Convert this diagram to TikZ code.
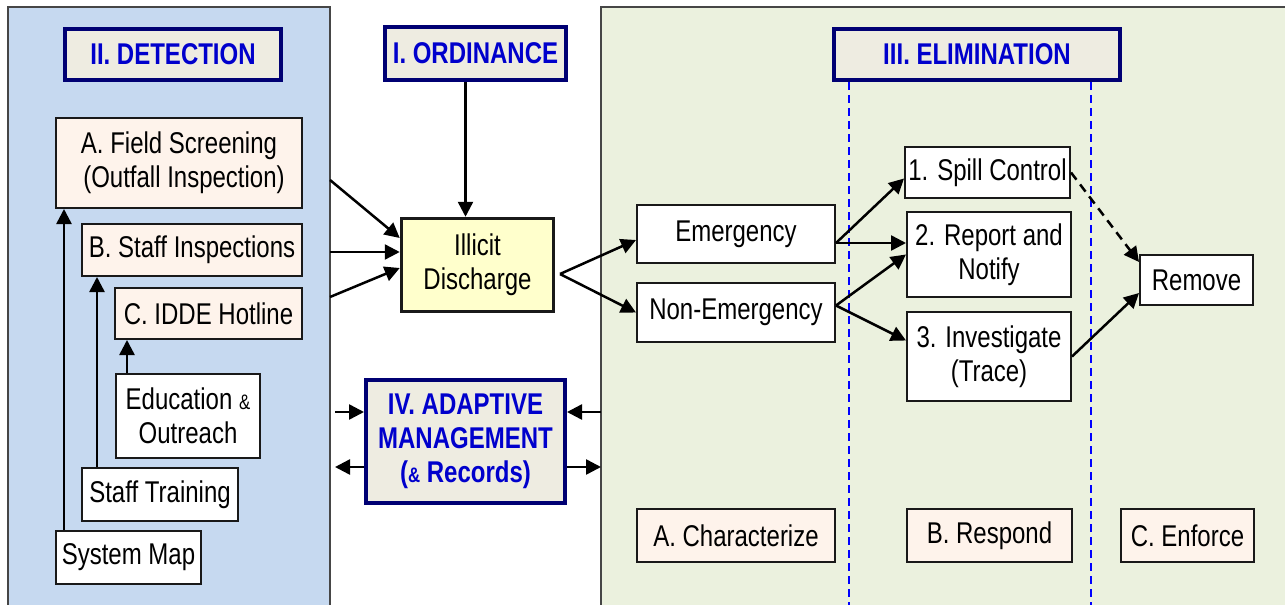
\documentclass[tikz,border=0pt]{standalone}
\usepackage{fontspec}
\setmainfont{Liberation Sans}[FakeStretch=0.80]
\usetikzlibrary{arrows.meta}
\definecolor{bluepanel}{RGB}{198,217,240}
\definecolor{greenpanel}{RGB}{235,241,222}
\definecolor{hdrfill}{RGB}{238,236,225}
\definecolor{navy}{RGB}{0,0,115}
\definecolor{txtblue}{RGB}{0,0,204}
\definecolor{illfill}{RGB}{255,255,204}
\definecolor{peach}{RGB}{254,243,235}
\definecolor{panelline}{RGB}{70,70,70}
\newcommand{\fs}{\fontsize{30}{34}\selectfont}
\newcommand{\amp}{{\fontsize{21}{21}\selectfont\&}}
\tikzset{
  box/.style={draw=black!90, line width=2pt, fill=white, inner sep=0pt, align=center, font=\fs},
  pbox/.style={box, fill=peach},
  hdr/.style={draw=navy, line width=4pt, fill=hdrfill, text=txtblue, font=\bfseries\fs, inner sep=0pt, align=center},
  arr/.style={-{Triangle[length=15pt,width=15pt]}, line width=2.5pt},
  vdash/.style={draw=blue, line width=1.6pt, dash pattern=on 8pt off 5pt},
  panelborder/.style={draw=panelline, line width=1.5pt},
}
\begin{document}
\begin{tikzpicture}[x=1pt,y=-1pt]
\useasboundingbox (0,0) rectangle (1285,605);
% panels
\fill[bluepanel] (8,7) rectangle (330,615);
\draw[panelborder] (8,615) -- (8,7) -- (330,7) -- (330,615);
\fill[greenpanel] (601,7) rectangle (1295,615);
\draw[panelborder] (601,615) -- (601,7) -- (1295,7);
% dashed column separators
\draw[vdash] (849,82) -- (849,610);
\draw[vdash] (1091,82) -- (1091,610);
% headers
\node[hdr, minimum width=216pt, minimum height=51pt] (det) at (173,54.5) {II. DETECTION};
\node[hdr, minimum width=181pt, minimum height=53pt] (ord) at (475.5,53.5) {I. ORDINANCE};
\node[hdr, minimum width=286pt, minimum height=51pt] (elim) at (977,54.5) {III. ELIMINATION};
% detection
\node[pbox, minimum width=246pt, minimum height=90pt] (A) at (179,163) {A. Field Screening\\\hspace*{10pt}(Outfall Inspection)};
\node[pbox, minimum width=220pt, minimum height=52pt] (B) at (192,250) {B. Staff Inspections};
\node[pbox, minimum width=187pt, minimum height=51pt] (C) at (208.5,313.5) {C. IDDE Hotline};
\node[box, minimum width=144pt, minimum height=84pt] (edu) at (188,416) {Education \amp\\Outreach};
\node[box, minimum width=156pt, minimum height=53pt] (train) at (160,494.5) {Staff Training};
\node[box, minimum width=145pt, minimum height=53pt] (map) at (128.5,557.5) {System Map};
% centre
\node[box, fill=illfill, line width=3.5pt, minimum width=152pt, minimum height=93pt] (ill) at (477.5,265) {Illicit\\Discharge};
\node[hdr, minimum width=199pt, minimum height=123pt] (iv) at (465.5,441.5) {IV. ADAPTIVE\\MANAGEMENT\\(\amp\ Records)};
% elimination
\node[box, minimum width=198pt, minimum height=58pt] (emg) at (736,234) {Emergency};
\node[box, minimum width=198pt, minimum height=59pt] (nemg) at (736,312.5) {Non-Emergency};
\node[box, minimum width=165pt, minimum height=51pt] (spill) at (987.5,172.5) {1. Spill Control};
\node[box, minimum width=164pt, minimum height=85pt] (rep) at (989,254.5) {2. Report and\\Notify};
\node[box, minimum width=164pt, minimum height=89pt] (inv) at (989,356.5) {3. Investigate\\(Trace)};
\node[box, minimum width=113pt, minimum height=50pt] (rem) at (1196.5,280) {Remove};
\node[pbox, minimum width=198pt, minimum height=53pt] (char) at (736,535.5) {A. Characterize};
\node[pbox, minimum width=165pt, minimum height=53pt] (resp) at (989.5,535.5) {B. Respond};
\node[pbox, minimum width=133pt, minimum height=53pt] (enf) at (1187.5,535.5) {C. Enforce};
% detection arrows
\draw[arr] ([xshift=9pt]map.north west) -- ([xshift=9pt]map.north west |- A.south);
\draw[arr] ([xshift=16pt]train.north west) -- ([xshift=16pt]train.north west |- B.south);
\draw[arr] ([xshift=12pt]edu.north west) -- ([xshift=12pt]edu.north west |- C.south);
\coordinate (pa) at (330,180);
\coordinate (pb) at (330,252);
\coordinate (pc) at (330,297);
\draw[arr] (pa) -- ([yshift=27pt]ill.west);
\draw[arr] (pb) -- (pb -| ill.west);
\draw[arr] (pc) -- ([yshift=-3pt]ill.west);
\draw[arr] ([xshift=-10pt]ord.south) -- ([xshift=-10pt]ord.south |- ill.north);
% to emergency / non-emergency
\coordinate (pd) at (560,274);
\draw[arr] (pd) -- ([yshift=-6pt]emg.west);
\draw[arr] (pd) -- (nemg.west);
\draw[arr] ([yshift=-9pt]emg.east) -- ([yshift=-6pt]spill.west);
\draw[arr] ([yshift=-9pt]emg.east) -- ([yshift=-9pt]emg.east -| rep.west);
\draw[arr] ([yshift=7pt]nemg.east) -- (rep.west);
\draw[arr] ([yshift=7pt]nemg.east) -- ([yshift=16pt]inv.west);
\draw[arr, dash pattern=on 9pt off 6pt] (spill.east) -- ([yshift=18pt]rem.west);
\draw[arr] (inv.east) -- ([yshift=-13pt]rem.west);
% adaptive management arrows
\coordinate (l1) at (335,412);
\coordinate (r1) at (601,412);
\coordinate (l2) at (335,467);
\coordinate (r2) at (601,467);
\draw[arr] (l1) -- (l1 -| iv.west);
\draw[arr] (r1) -- (r1 -| iv.east);
\draw[arr] (l2 -| iv.west) -- (l2);
\draw[arr] (r2 -| iv.east) -- (r2);
\end{tikzpicture}
\end{document}
